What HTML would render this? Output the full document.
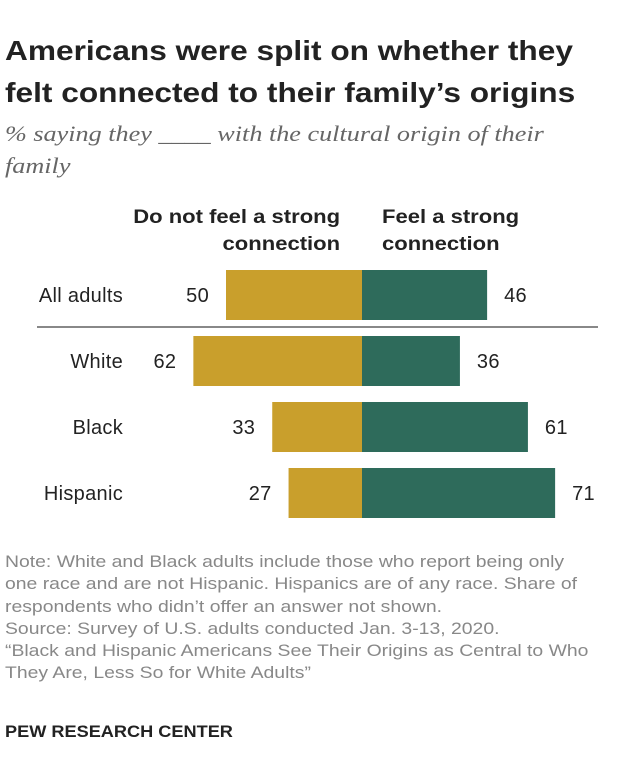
<!DOCTYPE html>
<html><head><meta charset="utf-8"><style>
body{margin:0;width:620px;height:782px;background:#fff;font-family:"Liberation Sans",Arial,sans-serif;position:relative;overflow:hidden}
.t{position:absolute;white-space:nowrap}
</style></head><body>
<div class="t" style="left:5px;top:30px;font-size:28px;font-weight:bold;color:#222;line-height:42px;transform:scaleX(1.13);transform-origin:0 0">Americans were split on whether they<br>felt connected to their family’s origins</div>
<div class="t" style="left:5px;top:118px;font-family:'Liberation Serif',serif;font-style:italic;font-size:22px;color:#666;line-height:32px;transform:scaleX(1.19);transform-origin:0 0">% saying they ____ with the cultural origin of their<br>family</div>
<div class="t" style="right:280px;top:204px;font-size:19.5px;font-weight:bold;color:#222;text-align:right;line-height:27px;transform:scaleX(1.13);transform-origin:100% 0">Do not feel a strong<br>connection</div>
<div class="t" style="left:382px;top:204px;font-size:19.5px;font-weight:bold;color:#222;line-height:27px;transform:scaleX(1.13);transform-origin:0 0">Feel a strong<br>connection</div>
<svg width="620" height="782" style="position:absolute;left:0;top:0">
<line x1="37" y1="327" x2="598" y2="327" stroke="#888" stroke-width="2"/>
<g id="g"></g></svg>
<div class="t" style="left:5px;top:551px;font-size:17px;color:#888;line-height:22.3px;transform:scaleX(1.14);transform-origin:0 0">Note: White and Black adults include those who report being only<br>one race and are not Hispanic. Hispanics are of any race. Share of<br>respondents who didn’t offer an answer not shown.<br>Source: Survey of U.S. adults conducted Jan. 3-13, 2020.<br>“Black and Hispanic Americans See Their Origins as Central to Who<br>They Are, Less So for White Adults”</div>
<div class="t" style="left:5px;top:723px;font-size:16.5px;font-weight:bold;color:#222;transform:scaleX(1.1);transform-origin:0 0">PEW RESEARCH CENTER</div>
<script>
const categories=["All adults","White","Black","Hispanic"];
const notStrong=[50,62,33,27];
const strong=[46,36,61,71];
const cx=362,k=2.72,top0=270,step=66,bh=50;
const g=document.getElementById('g');
const ns='http://www.w3.org/2000/svg';
function mk(tag,a){const e=document.createElementNS(ns,tag);for(const n in a)e.setAttribute(n,a[n]);g.appendChild(e);return e;}
categories.forEach((c,i)=>{
 const y=top0+i*step;
 const w1=notStrong[i]*k,w2=strong[i]*k;
 const r1=mk('rect',{x:cx-w1,y:y,width:w1,height:bh,fill:'#C99F2C'});
 
 
 const r2=mk('rect',{x:cx,y:y,width:w2,height:bh,fill:'#2E6B5B'});
 
 
 const l=mk('text',{x:123,y:y+32,'text-anchor':'end','font-size':20,'letter-spacing':0.3,fill:'#222'});l.textContent=c;
 
 
 const v1=mk('text',{x:cx-w1-17,y:y+32,'text-anchor':'end','font-size':20,'letter-spacing':0.3,fill:'#222'});v1.textContent=notStrong[i];
 
 
 const v2=mk('text',{x:cx+w2+17,y:y+32,'text-anchor':'start','font-size':20,'letter-spacing':0.3,fill:'#222'});v2.textContent=strong[i];
 
 
});
</script>
</body></html>
